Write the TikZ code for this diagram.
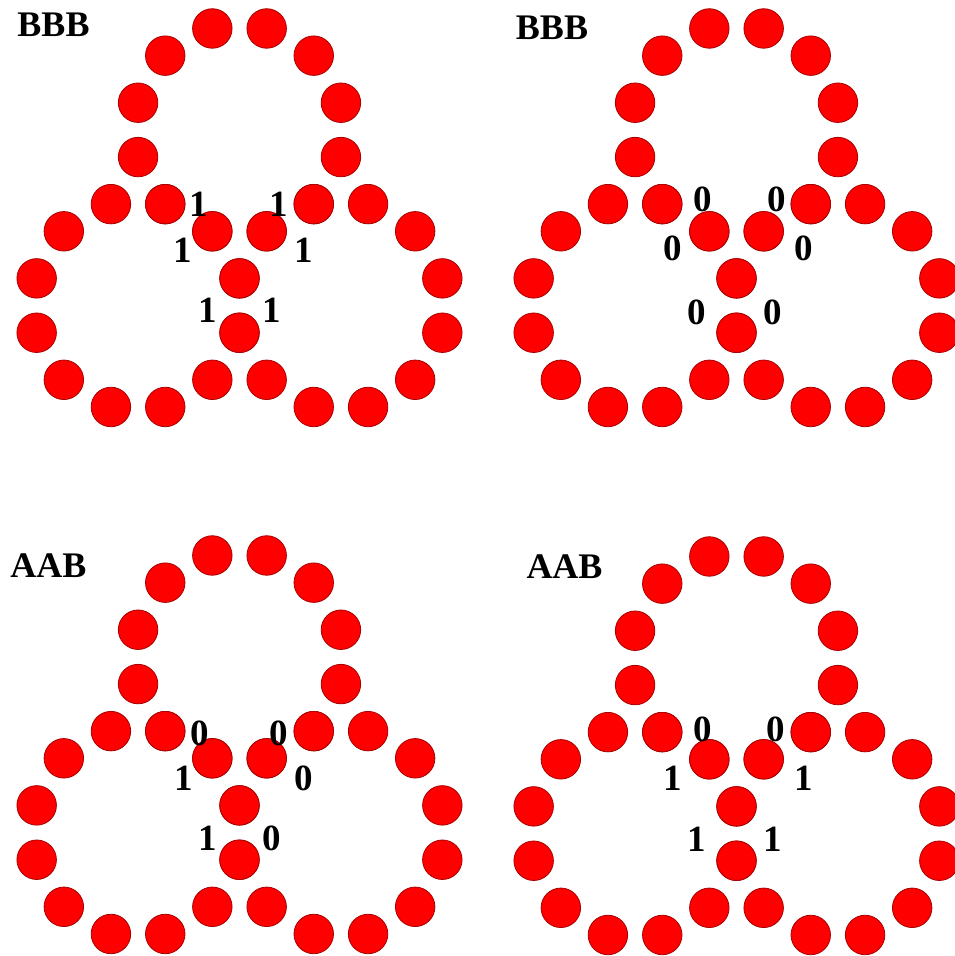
\documentclass[tikz,border=0pt]{standalone}
\usepackage{fontspec}
\setmainfont{Liberation Serif}
\usetikzlibrary{positioning}
\definecolor{beadred}{HTML}{FF0000}
\definecolor{beadrim}{HTML}{A80000}
\tikzset{
  bead/.style={circle,draw=beadrim,fill=beadred,line width=0.8pt,
               minimum size=39.5pt,inner sep=0pt},
  bitmark/.style={inner sep=0pt,font=\fontsize{37}{42}\selectfont\bfseries},
  paneltag/.style={inner sep=0pt,font=\fontsize{36}{42}\selectfont\bfseries}
}

\begin{document}
\begin{tikzpicture}[x=1pt,y=-1pt]
  \clip (0,0) rectangle (955,956);
  \fill[white] (0,0) rectangle (955,956);

  % four panels, each three linked rings of twelve beads
  \foreach \pn/\cx/\cy in {tl/239.5/247, tr/736.5/247, bl/239.5/774, br/736.5/775} {
    \begin{scope}[shift={(\cx,\cy)}]
      \foreach \rg/\ra in {t/-90, l/150, r/30} {
        \begin{scope}[shift={(\ra:117.1)}]
          \coordinate (\pn-\rg) at (0,0);
          \foreach \k in {0,...,11}
            \node[bead] (\pn-\rg-\k) at ({15+30*\k}:105) {};
        \end{scope}
      }
    \end{scope}
  }

  % panel tags
  \node[paneltag] (tl-tag) at (53.5,24.5) {BBB};
  \node[paneltag] (tr-tag) at (552,27.5) {BBB};
  \node[paneltag] (bl-tag) at (48.5,566) {AAB};
  \node[paneltag] (br-tag) at (564.5,566.5) {AAB};

  % crossing bits
  \foreach \i/\bx/\by/\v in {1/199/204/1, 2/279/204/1, 3/183/250/1,
                             4/304/250/1, 5/208/310/1, 6/272/310/1}
    \node[bitmark] (tl-b\i) at (\bx,\by) {\v};
  \foreach \i/\bx/\by/\v in {1/703/199/0, 2/777/199/0, 3/673/248/0,
                             4/804/248/0, 5/697/312/0, 6/773/312/0}
    \node[bitmark] (tr-b\i) at (\bx,\by) {\v};
  \foreach \i/\bx/\by/\v in {1/200/733/0, 2/279/733/0, 3/184/778/1,
                             4/304/778/0, 5/208/838/1, 6/272/838/0}
    \node[bitmark] (bl-b\i) at (\bx,\by) {\v};
  \foreach \i/\bx/\by/\v in {1/703/729/0, 2/776/729/0, 3/673/778/1,
                             4/804/778/1, 5/697/839/1, 6/773/839/1}
    \node[bitmark] (br-b\i) at (\bx,\by) {\v};
\end{tikzpicture}
\end{document}
